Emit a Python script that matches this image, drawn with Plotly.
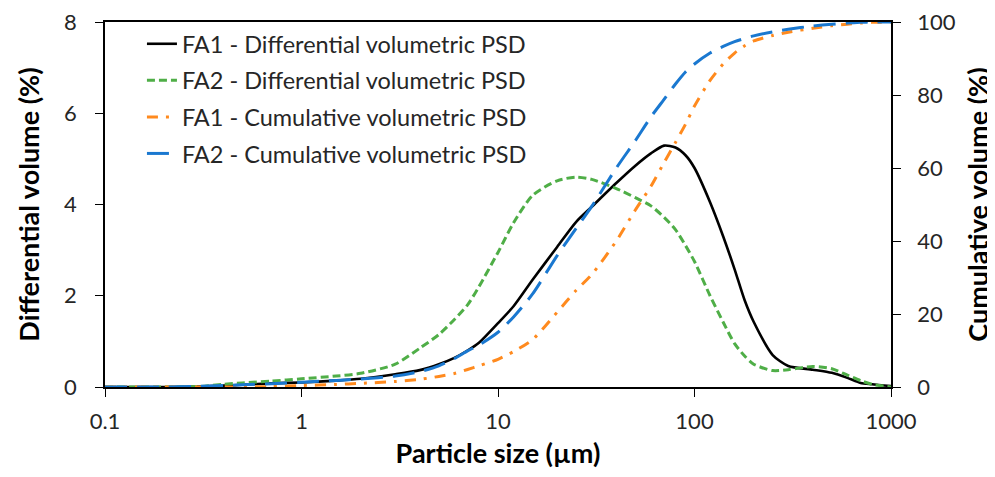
import plotly.graph_objects as go

# Particle size (µm)
sizes = [0.1, 0.2, 0.3, 0.4, 0.5, 0.7, 1, 1.5, 2, 3, 4, 5, 6, 7, 8, 10, 12, 15, 20, 25,
         30, 40, 50, 60, 70, 80, 90, 100, 120, 140, 160, 180, 200, 250, 300, 400, 500,
         600, 700, 800, 1000]

fa1_diff = [0, 0, 0.01, 0.03, 0.05, 0.08, 0.1, 0.14, 0.18, 0.28, 0.37, 0.5, 0.64, 0.8, 0.97,
            1.4, 1.77, 2.35, 3.07, 3.62, 3.95, 4.47, 4.85, 5.12, 5.29, 5.25, 5.08, 4.8, 4.05,
            3.3, 2.58, 1.9, 1.43, 0.7, 0.46, 0.38, 0.31, 0.2, 0.09, 0.06, 0.02]

fa2_diff = [0, 0, 0.01, 0.06, 0.09, 0.13, 0.18, 0.24, 0.3, 0.5, 0.85, 1.15, 1.48, 1.8, 2.2,
            2.95, 3.6, 4.2, 4.52, 4.6, 4.55, 4.35, 4.15, 3.97, 3.72, 3.45, 3.1, 2.75, 2.0,
            1.42, 0.95, 0.68, 0.5, 0.36, 0.38, 0.45, 0.4, 0.26, 0.14, 0.06, 0]

fa1_cum = [0, 0, 0, 0, 0, 0.1, 0.4, 0.7, 1.0, 1.5, 2.1, 2.9, 3.7, 4.8, 5.8, 7.6, 9.7, 13,
           20.5, 26.5, 30.8, 40, 48.5, 55, 61.5, 67, 72, 77, 84, 88.5, 91.5, 93.5, 94.8,
           96.3, 97.2, 98.3, 99, 99.4, 99.7, 99.9, 100]

fa2_cum = [0, 0, 0.2, 0.4, 0.6, 0.9, 1.3, 1.8, 2.2, 3.0, 4.2, 5.8, 7.8, 9.9, 11.5, 15, 19.2,
           25.5, 36, 43.5, 49.5, 60, 67.5, 74, 78.8, 83, 86.3, 88.5, 91.5, 93.3, 94.6, 95.5,
           96.2, 97.3, 98, 98.9, 99.4, 99.7, 99.9, 100, 100]

x_tickvals = [0.1, 1, 10, 100, 1000]
x_ticktext = ["0.1", "1", "10", "100", "1000"]

FONT = "Lato, 'Open Sans', sans-serif"
TXT = "#262626"

fig = go.Figure()
fig.add_trace(go.Scatter(x=sizes, y=fa1_diff, name="FA1 - Differential volumetric PSD",
                         mode="lines", line=dict(color="#000000", width=2.6, shape="spline", smoothing=0.7),
                         legendgroup="a"))
fig.add_trace(go.Scatter(x=sizes, y=fa2_diff, name="FA2 - Differential volumetric PSD",
                         mode="lines", line=dict(color="#4FAE47", width=3, dash="8px,4px", shape="spline", smoothing=0.7),
                         legendgroup="b"))
fig.add_trace(go.Scatter(x=sizes, y=fa1_cum, name="FA1 - Cumulative volumetric PSD", yaxis="y2",
                         mode="lines", line=dict(color="#FF8A1E", width=3, dash="11px,8px,3px,8px", shape="spline", smoothing=0.7),
                         legendgroup="c"))
fig.add_trace(go.Scatter(x=sizes, y=fa2_cum, name="FA2 - Cumulative volumetric PSD", yaxis="y2",
                         mode="lines", line=dict(color="#1A78D0", width=3, dash="22px,10px", shape="spline", smoothing=0.7),
                         legendgroup="d"))

# the page body adds an 8px offset; the figure is sized so the plot lands where the reference's does
fig.update_layout(
    width=1010, height=469,
    margin=dict(l=97, r=127, t=14, b=90, autoexpand=False),
    paper_bgcolor="white", plot_bgcolor="white",
    font=dict(family=FONT, size=22, color=TXT),
    showlegend=True,
    legend=dict(x=0.047, y=1.0, xanchor="left", yanchor="top", bgcolor="rgba(0,0,0,0)",
                font=dict(size=23.5, color=TXT), tracegroupgap=3),
    xaxis=dict(type="log", range=[-1, 3], tickvals=x_tickvals, ticktext=x_ticktext,
               showline=True, linecolor="#000", linewidth=1.5, mirror=True, automargin=False,
               ticks="outside", ticklen=8, tickcolor="#000", showgrid=False, zeroline=False,
               ticklabelstandoff=6, ticklabeloverflow="allow",
               title=dict(text="<b>Particle size (µm)</b>", font=dict(size=27, color="#000"), standoff=11),
               tickfont=dict(size=22, color=TXT)),
    yaxis=dict(range=[0, 8], dtick=2, showline=True, linecolor="#000", linewidth=1.5,
               ticks="outside", ticklen=8, tickcolor="#000", showgrid=False, zeroline=False,
               ticklabelstandoff=14, ticklabeloverflow="allow", automargin=False,
               title=dict(text="<b>Differential volume (%)</b>", font=dict(size=27, color="#000"), standoff=17),
               tickfont=dict(size=22, color=TXT)),
    yaxis2=dict(range=[0, 100], dtick=20, overlaying="y", side="right", showline=True,
                linecolor="#000", linewidth=1.5, ticks="outside", ticklen=8, tickcolor="#000",
                showgrid=False, zeroline=False, ticklabelstandoff=12, ticklabeloverflow="allow",
                automargin=True,
                title=dict(text="<b>Cumulative volume (%)</b>", font=dict(size=27, color="#000"), standoff=14),
                tickfont=dict(size=22, color=TXT)),
)

fig.write_html("out.html")
